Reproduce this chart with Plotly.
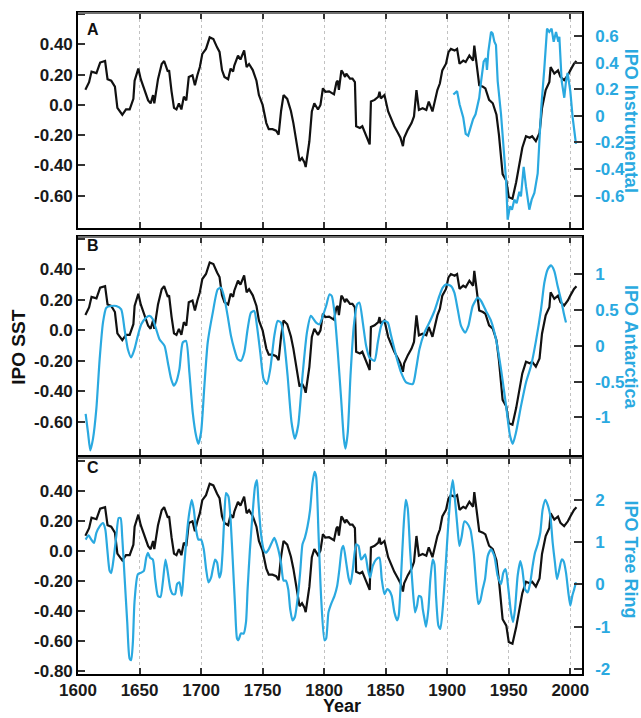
import plotly.graph_objects as go

# ---------------- data ----------------
black_years = [1606, 1609, 1611, 1615, 1618, 1622, 1624, 1627, 1630, 1632,
               1636, 1639, 1642, 1645, 1646, 1649, 1651, 1654, 1657, 1659,
               1661, 1662, 1665, 1668, 1670, 1673, 1674, 1676, 1678, 1680,
               1682, 1684, 1686, 1688, 1690, 1693, 1695, 1697, 1699, 1701,
               1704, 1707, 1710, 1713, 1715, 1717, 1719, 1722, 1724, 1726,
               1727, 1730, 1732, 1735, 1737, 1739, 1742, 1745, 1747, 1750,
               1753, 1755, 1758, 1761, 1763, 1765, 1767, 1770, 1773, 1775,
               1778, 1780, 1782, 1784, 1785, 1788, 1790, 1792, 1795, 1797,
               1799, 1801, 1804, 1808, 1810, 1811, 1812, 1814, 1815, 1817,
               1818, 1821, 1823, 1825, 1826, 1829, 1831, 1833, 1835, 1837,
               1838, 1841, 1844, 1845, 1846, 1849, 1852, 1854, 1857, 1860,
               1862, 1864, 1865, 1868, 1871, 1873, 1875, 1877, 1880, 1883,
               1885, 1888, 1890, 1892, 1894, 1896, 1899, 1901, 1903, 1906,
               1908, 1910, 1913, 1915, 1918, 1921, 1922, 1925, 1926, 1929,
               1931, 1934, 1937, 1940, 1942, 1945, 1948, 1950, 1953, 1956,
               1959, 1961, 1964, 1967, 1969, 1972, 1975, 1977, 1980, 1983,
               1984, 1987, 1990, 1992, 1995, 1998, 2000, 2003, 2005]
black_vals = [0.10, 0.15, 0.22, 0.21, 0.28, 0.29, 0.17, 0.16, 0.12, -0.02,
              -0.065, -0.03, -0.03, 0.04, 0.16, 0.24, 0.17, 0.10, 0.03, 0.01,
              0.065, 0.01, 0.17, 0.27, 0.29, 0.22, 0.23, 0.09, -0.02, -0.03,
              0.01, -0.03, 0.054, 0.03, 0.185, 0.196, 0.13, 0.196, 0.25, 0.337,
              0.37, 0.446, 0.435, 0.38, 0.35, 0.23, 0.185, 0.17, 0.24, 0.22,
              0.26, 0.326, 0.30, 0.36, 0.25, 0.27, 0.23, 0.16, 0.065, 0.0,
              -0.12, -0.16, -0.16, -0.17, -0.196, -0.04, 0.065, 0.04, -0.04, -0.12,
              -0.26, -0.37, -0.35, -0.38, -0.41, -0.24, -0.043, 0.01, -0.03, 0.0,
              0.11, 0.087, 0.09, 0.07, 0.15, 0.16, 0.10, 0.228, 0.217, 0.185,
              0.207, 0.174, 0.174, 0.15, -0.141, -0.152, -0.141, -0.185, -0.217, -0.261,
              0.022, 0.033, 0.054, 0.087, 0.043, 0.065, -0.043, -0.087, -0.141, -0.185,
              -0.217, -0.272, -0.217, -0.163, -0.12, -0.076, 0.098, -0.033, -0.022, -0.033,
              0.022, -0.043, 0.033, 0.098, 0.141, 0.228, 0.272, 0.348, 0.37, 0.359,
              0.37, 0.272, 0.293, 0.283, 0.326, 0.293, 0.391, 0.217, 0.13, 0.12,
              0.109, 0.033, 0.011, -0.065, -0.196, -0.457, -0.5, -0.609, -0.62, -0.511,
              -0.38, -0.283, -0.207, -0.217, -0.207, -0.239, -0.185, -0.022, 0.098, 0.152,
              0.25, 0.207, 0.228, 0.185, 0.163, 0.196, 0.228, 0.272, 0.29]

inst_years = [1905, 1908, 1910, 1913, 1915, 1917, 1919, 1921, 1923, 1925,
              1926, 1927.5, 1929.6, 1931.5, 1932.3, 1933.4, 1935.6, 1936.9, 1938.3, 1939.6,
              1941, 1943.7, 1945.9, 1947.8, 1949.1, 1951, 1952.6, 1954.5, 1956.4, 1958.6,
              1959.9, 1962.1, 1964, 1966.7, 1968.6, 1970.8, 1973.5, 1976.2, 1978.9, 1981.1,
              1982.9, 1984.8, 1986.5, 1988.4, 1990.3, 1991.1, 1993, 1995.1, 1996.5, 1997.8,
              2000, 2001.9, 2004.6]
inst_vals = [0.16, 0.186, 0.087, -0.012, -0.136, -0.149, -0.087, -0.025, 0.012, 0.087,
             0.136, 0.26, 0.408, 0.433, 0.346, 0.483, 0.631, 0.619, 0.557, 0.532,
             0.26, 0.012, -0.26, -0.483, -0.78, -0.68, -0.705, -0.63, -0.656, -0.57,
             -0.606, -0.384, -0.532, -0.705, -0.63, -0.58, -0.433, 0.037, 0.359, 0.656,
             0.631, 0.656, 0.557, 0.631, 0.557, 0.594, 0.26, 0.136, 0.26, 0.322,
             0.186, -0.012, -0.21]

ant_years = [1606.2, 1608.1, 1610, 1612.2, 1614.9, 1617.6, 1620.3, 1623, 1627, 1631.1,
             1635.1, 1637.8, 1640.5, 1643.2, 1645.9, 1648.6, 1651.4, 1655.4, 1658.1, 1660.8,
             1663.5, 1666.2, 1670.3, 1673, 1675.7, 1677.8, 1679.7, 1682.4, 1685.1, 1687.8,
             1690.5, 1693.2, 1695.9, 1697.8, 1700, 1702.7, 1705.4, 1709.5, 1713.5, 1716.2,
             1718.9, 1721.6, 1724.3, 1727, 1729.7, 1732.4, 1735.1, 1737.8, 1740.5, 1743.2,
             1745.4, 1748.1, 1750.8, 1753.5, 1756.2, 1759.5, 1762.2, 1764.9, 1767.6, 1770.3,
             1773.5, 1776.2, 1778.9, 1782.4, 1786, 1789.2, 1793.5, 1796.2, 1798.9, 1801.6,
             1804.3, 1806.2, 1808.4, 1811.1, 1813.8, 1816, 1817.3, 1819.2, 1821.4, 1824.1,
             1826.8, 1828.7, 1831.4, 1834.1, 1836.8, 1840.9, 1843.6, 1846.3, 1849, 1851.7,
             1854.4, 1858.5, 1862.5, 1866.6, 1872, 1874.7, 1877.4, 1881.5, 1885.5, 1889.6,
             1893.6, 1896.3, 1899, 1903.1, 1905.8, 1908.5, 1911.2, 1914.5, 1917.2, 1920.7,
             1924.8, 1927.5, 1931.5, 1935.6, 1939.6, 1943.7, 1947.8, 1951, 1953.2, 1955.9,
             1960, 1964, 1968.1, 1972.1, 1976.2, 1978.9, 1981.6, 1984.3, 1987, 1989.7,
             1993, 1994.6, 1996.5]
ant_vals = [-0.953, -1.21, -1.465, -1.30, -0.884, -0.186, 0.326, 0.535, 0.558, 0.558,
            0.512, 0.233, -0.047, -0.163, -0.047, 0.14, 0.302, 0.395, 0.419, 0.372,
            0.233, 0.093, 0.0, -0.233, -0.465, -0.558, -0.512, -0.326, 0.047, 0.07,
            -0.372, -0.93, -1.256, -1.372, -1.21, -0.558, 0.047, 0.465, 0.79, 0.814,
            0.674, 0.419, 0.14, -0.047, -0.186, -0.209, -0.093, 0.233, 0.465, 0.488,
            0.279, -0.093, -0.465, -0.535, -0.326, 0.14, 0.349, 0.326, 0.047, -0.419,
            -1.07, -1.30, -1.116, -0.419, 0.186, 0.419, 0.326, 0.302, 0.419, 0.558,
            0.72, 0.698, 0.465, -0.093, -0.744, -1.30, -1.44, -1.21, -0.419, 0.279,
            0.581, 0.605, 0.326, 0.0, -0.163, -0.209, 0.047, 0.279, 0.349, 0.326,
            0.14, -0.14, -0.372, -0.512, -0.535, -0.326, -0.047, 0.186, 0.326, 0.488,
            0.698, 0.814, 0.86, 0.837, 0.744, 0.512, 0.279, 0.186, 0.279, 0.558,
            0.674, 0.628, 0.488, 0.349, 0.093, -0.326, -0.837, -1.256, -1.372, -1.21,
            -0.837, -0.512, -0.279, 0.07, 0.512, 0.884, 1.07, 1.126, 1.047, 0.837,
            0.605, 0.465, 0.326]

tree_years = [1606.2, 1608.6, 1610.8, 1613, 1614.9, 1617.6, 1620.3, 1622.2, 1623.8, 1625.7,
              1627, 1629.2, 1631.1, 1633, 1634.6, 1635.9, 1637.8, 1640, 1641.9, 1643.2,
              1644.6, 1645.9, 1648.6, 1651.4, 1653.5, 1655.4, 1656.8, 1658.6, 1660.8, 1662.7,
              1664.9, 1667, 1668.9, 1671.1, 1673, 1675.1, 1677, 1678.9, 1680.5, 1682.4,
              1684.3, 1685.9, 1687.8, 1690, 1692.4, 1694.1, 1695.9, 1697.8, 1700, 1702.2,
              1704.1, 1706, 1708.1, 1709.5, 1711.4, 1713, 1714.9, 1716.2, 1717.6, 1718.9,
              1720.3, 1722.2, 1723.8, 1725.7, 1727.6, 1729.2, 1730.3, 1732.4, 1734.6, 1736.5,
              1737.8, 1739.7, 1741.9, 1743.8, 1745.4, 1746.5, 1748.6, 1750.8, 1752.7, 1754.9,
              1757.3, 1759.5, 1760.8, 1762.7, 1764.9, 1767, 1768.9, 1770.8, 1772.4, 1774.3,
              1776.2, 1778.4, 1780.5, 1782.4, 1784.3, 1786.5, 1788.6, 1790.5, 1792.2, 1793.5,
              1795.4, 1797.6, 1800.3, 1801.6, 1803.5, 1805.7, 1808.4, 1810.6, 1812.4, 1814.3,
              1815.7, 1817.9, 1819.8, 1821.4, 1823.3, 1826, 1827.9, 1830, 1831.4, 1833.3,
              1835.5, 1837.3, 1839.5, 1842.2, 1844.9, 1846.8, 1849, 1851.2, 1853, 1854.9,
              1857.1, 1859.3, 1860.6, 1862.5, 1864.4, 1866.3, 1867.9, 1869.8, 1872, 1873.9,
              1875.5, 1876.9, 1878.8, 1880.1, 1881.5, 1882.8, 1884.7, 1886.3, 1888.2, 1889.6,
              1890.9, 1892.8, 1894.4, 1896.3, 1898.2, 1900.4, 1902.6, 1904.5, 1905.8, 1908,
              1909.9, 1911.8, 1913.9, 1916.1, 1918.8, 1921.5, 1923.4, 1925.3, 1926.9, 1928.8,
              1930.7, 1932.9, 1935.6, 1938.3, 1941, 1943.7, 1945.6, 1947.5, 1949.7, 1951.8,
              1953.5, 1955.1, 1957.2, 1959.4, 1961, 1963.2, 1965.4, 1967.5, 1969.4, 1971.3,
              1973.5, 1975.6, 1977.5, 1979.7, 1981.6, 1983.8, 1985.7, 1987.5, 1989.2, 1991.1,
              1993, 1994.6, 1996.5, 1998.4, 2000, 2001.6, 2003.2, 2004.6]
tree_vals = [1.06, 1.16, 1.06, 0.98, 1.22, 1.375, 1.45, 1.30, 0.83, 0.32,
             0.27, 0.67, 1.14, 1.57, 1.57, 1.14, 0.2, -0.89, -1.75, -1.79,
             -1.36, -0.42, 0.24, 0.28, 0.32, 0.63, 0.75, 0.63, 0.59, 0.125,
             -0.27, -0.30, 0.05, 0.59, 0.28, -0.11, -0.23, -0.23, 0.008, 0.05,
             -0.27, 0.28, 0.98, 1.61, 2.0, 1.77, 1.30, 1.06, 1.06, 0.83,
             0.36, 0.05, 0.16, 0.36, 0.59, 0.52, 0.16, 0.28, 0.83, 1.61,
             2.16, 2.08, 1.61, 0.59, -0.5, -1.28, -1.32, -1.16, -1.16, -0.89,
             -0.11, 0.83, 1.69, 2.31, 2.47, 2.0, 1.22, 0.83, 0.75, 0.83,
             0.98, 1.10, 1.02, 0.83, 0.52, 0.09, 0.09, -0.11, -0.58, -0.85,
             -0.77, -0.34, 0.28, 0.95, 1.10, 1.375, 1.77, 2.39, 2.66, 2.55,
             1.22, -0.34, -1.32, -1.28, -0.66, -0.46, -0.27, -0.03, 0.36, 0.83,
             0.91, 0.52, 0.16, 0.01, 0.36, 0.95, 0.91, 0.59, 0.63, 0.71,
             0.36, 0.16, 0.44, 0.59, 0.63, 0.125, -0.23, -0.11, -0.15, -0.27,
             -0.66, -0.85, -0.73, 0.20, 1.30, 2.0, 1.80, 0.83, -0.11, -0.66,
             -0.50, -0.27, -0.30, -0.58, -0.81, -1.0, -0.58, 0.125, 0.59, 0.48,
             -0.27, -0.97, -1.05, -0.58, 0.20, 1.22, 2.08, 2.47, 2.16, 1.45,
             0.91, 1.14, 1.49, 1.45, 1.30, 0.75, 0.05, -0.46, -0.38, -0.11,
             0.125, 0.67, 0.83, 0.67, 0.20, 0.01, 0.28, 0.36, -0.11, -0.66,
             -0.89, -0.58, 0.20, 0.55, 0.36, -0.11, -0.19, 0.05, 0.44, 0.75,
             0.95, 1.22, 1.77, 2.0, 1.88, 1.61, 0.98, 0.52, 0.125, 0.36,
             0.59, 0.55, 0.28, -0.19, -0.50, -0.27, -0.11, 0.05]

year_ticks = [1600, 1650, 1700, 1750, 1800, 1850, 1900, 1950, 2000]
year_labels = ["1600", "1650", "1700", "1750", "1800", "1850", "1900", "1950", "2000"]

sst_ticks_ab = [0.6, 0.4, 0.2, 0.0, -0.2, -0.4, -0.6]
sst_labels_ab = ["", "0.40", "0.20", "0.0", "-0.20", "-0.40", "-0.60"]
sst_ticks_c = [0.6, 0.4, 0.2, 0.0, -0.2, -0.4, -0.6, -0.8]
sst_labels_c = ["", "0.40", "0.20", "0.0", "-0.20", "-0.40", "-0.60", "-0.80"]

inst_ticks = [0.6, 0.4, 0.2, 0.0, -0.2, -0.4, -0.6]
inst_labels = ["0.6", "0.4", "0.2", "0", "-0.2", "-0.4", "-0.6"]
ant_ticks = [1.0, 0.5, 0.0, -0.5, -1.0]
ant_labels = ["1", "0.5", "0", "-0.5", "-1"]
tree_ticks = [2, 1, 0, -1, -2]
tree_labels = ["2", "1", "0", "-1", "-2"]

# ---------------- styling ----------------
FONT = "Liberation Sans, Arial, Helvetica, sans-serif"
BLUE = "#2aa9e0"
BLACK = "#111111"

domains = [[0.6747, 1.0], [0.3318, 0.6611], [0.0, 0.3268]]
left_ranges = [[-0.813, 0.607], [-0.817, 0.613], [-0.822, 0.618]]
right_ranges = [[-0.843, 0.773], [-1.524, 1.524], [-2.117, 2.99]]
panels = [
    ("A", inst_years, inst_vals, "IPO Instrumental", inst_ticks, inst_labels,
     sst_ticks_ab, sst_labels_ab, "linear"),
    ("B", ant_years, ant_vals, "IPO Antarctica", ant_ticks, ant_labels,
     sst_ticks_ab, sst_labels_ab, "spline"),
    ("C", tree_years, tree_vals, "IPO Tree Ring", tree_ticks, tree_labels,
     sst_ticks_c, sst_labels_c, "spline"),
]

fig = go.Figure()
layout = {}
annotations = []
shapes = []
letter_y = [0.9751, 0.6486, 0.3130]
title_y = [0.837, 0.4947, 0.1735]

for i, (letter, by, bv, rtitle, rt, rl, lt, ll, shape) in enumerate(panels):
    xname = "x" if i == 0 else f"x{i + 1}"
    ylname = "y" if i == 0 else f"y{2 * i + 1}"
    yrname = f"y{2 * i + 2}"

    fig.add_trace(go.Scatter(x=black_years, y=black_vals, xaxis=xname, yaxis=ylname,
                             mode="lines", line=dict(color=BLACK, width=2.2),
                             showlegend=False, hoverinfo="skip"))
    fig.add_trace(go.Scatter(x=by, y=bv, xaxis=xname, yaxis=yrname,
                             mode="lines", line=dict(color=BLUE, width=2.2, shape=shape,
                                                     smoothing=0.6),
                             showlegend=False, hoverinfo="skip"))

    xkey = "xaxis" if i == 0 else f"xaxis{i + 1}"
    ylkey = "yaxis" if i == 0 else f"yaxis{2 * i + 1}"
    yrkey = f"yaxis{2 * i + 2}"

    layout[xkey] = dict(
        domain=[0, 1], range=[1600, 2009.5], anchor=ylname,
        tickmode="array", tickvals=year_ticks, ticktext=year_labels,
        showticklabels=(i == 2), ticks="inside", ticklen=6, tickwidth=1.5,
        tickcolor="#333333", showline=True, linecolor="black", linewidth=1.6,
        mirror="ticks", showgrid=True, gridcolor="#c2c2c2", griddash="dot",
        gridwidth=1, zeroline=False,
        tickfont=dict(family=FONT, size=17, color="#1a1a1a", weight="bold"),
    )
    if i < 2:
        layout[xkey]["matches"] = "x3"
    layout[ylkey] = dict(
        domain=domains[i], range=left_ranges[i], anchor=xname,
        tickmode="array", tickvals=lt, ticktext=ll,
        ticks="inside", ticklen=7, tickwidth=1.5, tickcolor="#333333",
        showline=True, linecolor="black", linewidth=1.6,
        showgrid=False, zeroline=False,
        tickfont=dict(family=FONT, size=17, color="#1a1a1a", weight="bold"),
    )
    layout[yrkey] = dict(
        overlaying=ylname, side="right", anchor=xname, range=right_ranges[i],
        tickmode="array", tickvals=rt, ticktext=rl,
        ticks="inside", ticklen=8, tickwidth=1.5, tickcolor="#333333",
        showline=True, linecolor="black", linewidth=1.6,
        showgrid=False, zeroline=False, ticklabelstandoff=8,
        tickfont=dict(family=FONT, size=17, color=BLUE, weight="bold"),
    )

    # grey top border of each panel
    shapes.append(dict(type="line", xref="paper", yref="paper", x0=0, x1=1,
                       y0=domains[i][1], y1=domains[i][1], layer="above",
                       line=dict(color="#707070", width=2)))

    annotations.append(dict(text=letter, xref="paper", yref="paper", x=0.0139,
                            y=letter_y[i], xanchor="left", yanchor="middle",
                            showarrow=False,
                            font=dict(family=FONT, size=16, color="#111111",
                                      weight="bold")))
    annotations.append(dict(text=rtitle, xref="paper", yref="paper", x=1.097,
                            y=title_y[i], xanchor="center", yanchor="middle",
                            textangle=90, showarrow=False,
                            font=dict(family=FONT, size=18, color=BLUE,
                                      weight="bold")))

annotations.append(dict(text="IPO SST", xref="paper", yref="paper", x=-0.117,
                        y=0.4937, xanchor="center", yanchor="middle", textangle=-90,
                        showarrow=False,
                        font=dict(family=FONT, size=19, color="#111111", weight="bold")))
annotations.append(dict(text="Year", xref="paper", yref="paper", x=0.5248,
                        y=-0.049, xanchor="center", yanchor="middle",
                        showarrow=False,
                        font=dict(family=FONT, size=18, color="#111111", weight="bold")))

fig.update_layout(
    width=641, height=718,
    margin=dict(l=78, r=59, t=11, b=44),
    paper_bgcolor="white", plot_bgcolor="white",
    showlegend=False,
    annotations=annotations, shapes=shapes,
    font=dict(family=FONT, color="#111111"),
    **layout,
)

fig.write_html("out.html",
               config={"displayModeBar": False},
               post_script="document.body.style.margin='0';"
                           "document.body.style.padding='0';")
